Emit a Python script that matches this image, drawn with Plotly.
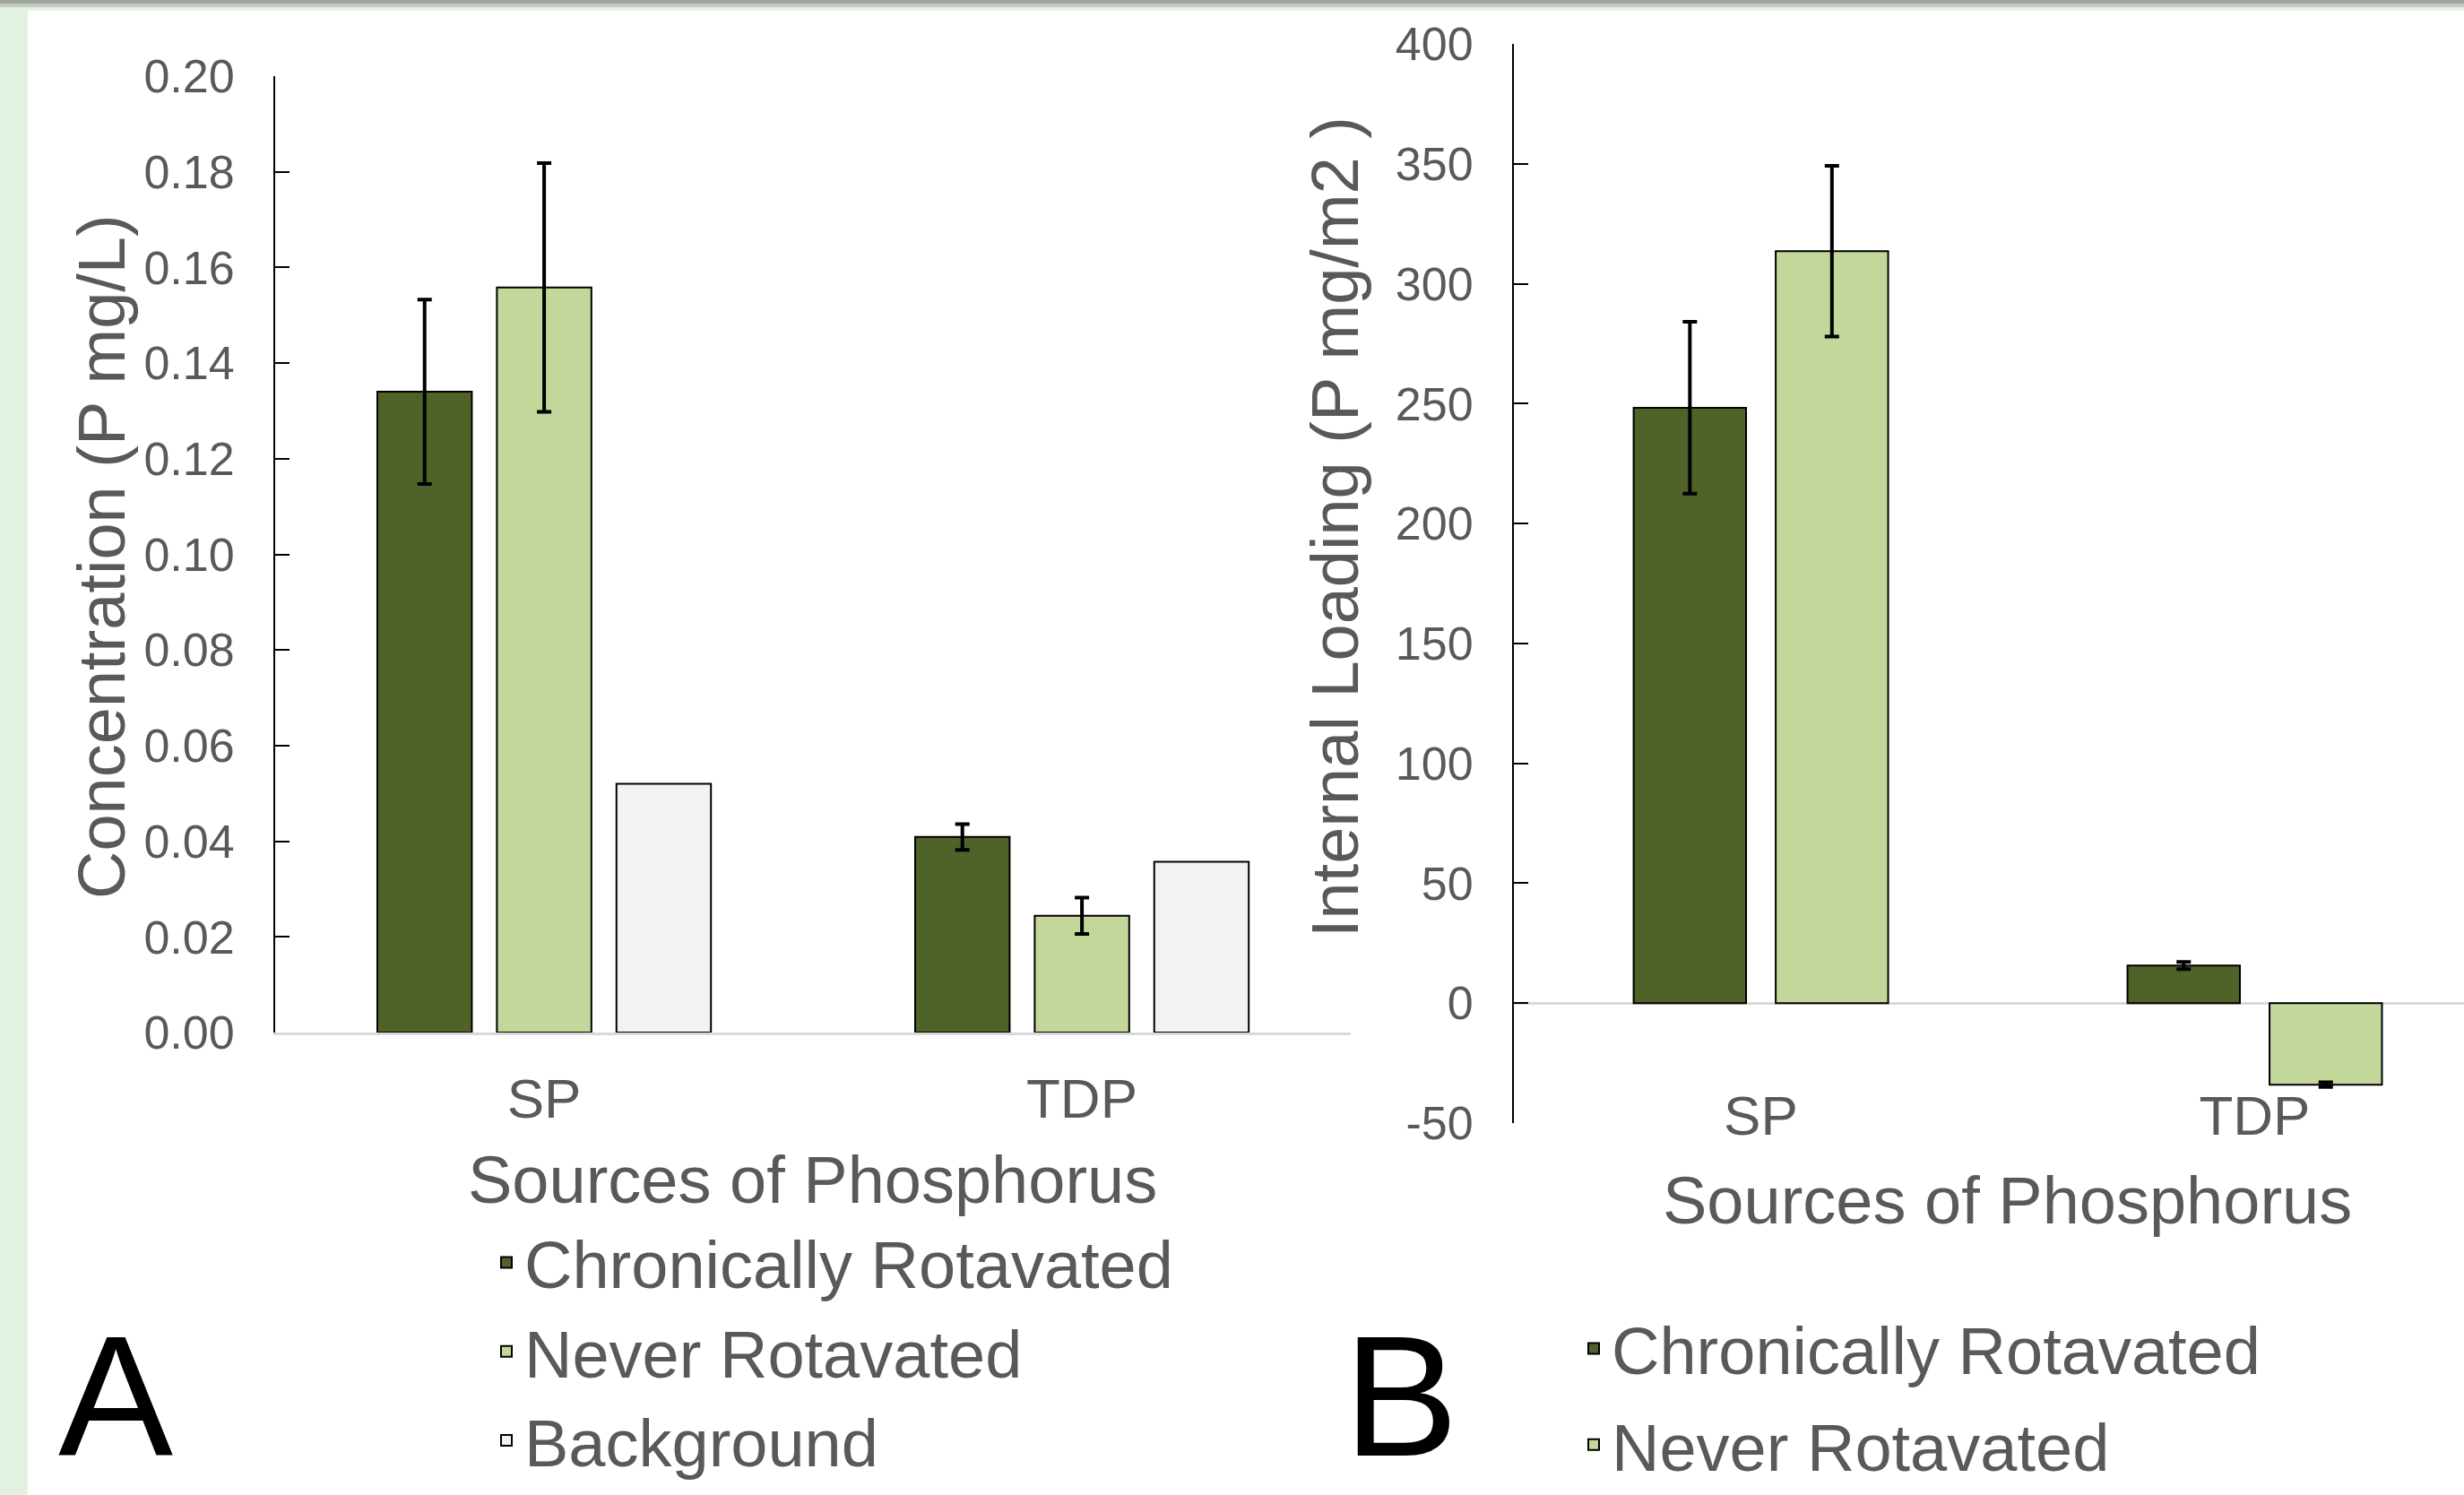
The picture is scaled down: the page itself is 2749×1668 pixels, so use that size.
import plotly.graph_objects as go

W, H = 2749, 1668

# ---------------- data ----------------
categories = ["SP", "TDP"]
series_names = ["Chronically Rotavated", "Never Rotavated", "Background"]

conc_cr = [0.134, 0.0409]
conc_cr_err = [0.0193, 0.0027]
conc_nr = [0.1558, 0.0244]
conc_nr_err = [0.026, 0.0038]
conc_bg = [0.052, 0.0357]

load_cr = [248.3, 15.7]
load_cr_err = [35.8, 1.5]
load_nr = [313.6, -34.0]
load_nr_err = [35.6, 1.0]

conc_ticks = [0.00, 0.02, 0.04, 0.06, 0.08, 0.10, 0.12, 0.14, 0.16, 0.18, 0.20]
load_ticks = [-50, 0, 50, 100, 150, 200, 250, 300, 350, 400]
load_tick_labels = ["-50", "0", "50", "100", "150", "200", "250", "300", "350", "400"]

# ---------------- styles ----------------
FONT = "Liberation Sans, Arial, sans-serif"
GREY_TXT = "#595959"
colors = ["#4f6228", "#c4d79b", "#f2f2f2"]

def px_x(p):
    return p / W

def px_y(p):
    return 1 - p / H

fig = go.Figure()

left_offsets = [-0.31, -0.0877, 0.1346]
left_width = 0.1757
left_vals = [conc_cr, conc_nr, conc_bg]
left_errs = [conc_cr_err, conc_nr_err, None]
for i, (name, vals, err, col, off) in enumerate(zip(series_names, left_vals, left_errs, colors, left_offsets)):
    fig.add_trace(go.Bar(
        x=categories, y=vals, name=name,
        marker=dict(color=col, line=dict(color="#000000", width=2)),
        width=left_width, offset=off,
        error_y=(dict(type="data", array=err, visible=True, color="#000000",
                      thickness=4, width=8) if err else None),
        xaxis="x", yaxis="y", legend="legend",
    ))

right_offsets = [-0.2575, 0.0302]
right_width = 0.2277
right_vals = [load_cr, load_nr]
right_errs = [load_cr_err, load_nr_err]
for i, (name, vals, err, col, off) in enumerate(zip(series_names[:2], right_vals, right_errs, colors[:2], right_offsets)):
    fig.add_trace(go.Bar(
        x=categories, y=vals, name=name,
        marker=dict(color=col, line=dict(color="#000000", width=2)),
        width=right_width, offset=off,
        error_y=dict(type="data", array=err, visible=True, color="#000000",
                     thickness=4, width=8),
        xaxis="x2", yaxis="y2", legend="legend2", legendgroup=f"right{i}",
    ))

axis_font = dict(family=FONT, color=GREY_TXT)

fig.update_layout(
    width=W, height=H,
    margin=dict(l=0, r=0, t=0, b=0, pad=0, autoexpand=False),
    paper_bgcolor="#ffffff", plot_bgcolor="rgba(0,0,0,0)",
    font=dict(family=FONT, color=GREY_TXT),
    barmode="group",
    xaxis=dict(domain=[px_x(307), px_x(1507)], range=[-0.5, 1.5], anchor="y",
               showline=True, linecolor="#d9d9d9", linewidth=3, ticks="",
               showgrid=False, zeroline=False,
               tickfont=dict(size=62, **axis_font), ticklabelstandoff=18),
    yaxis=dict(domain=[px_y(1152), px_y(85)], range=[0, 0.2], anchor="x",
               tickvals=conc_ticks, tickformat=".2f",
               ticks="inside", ticklen=16, tickwidth=2, tickcolor="#000000",
               showline=True, linecolor="#000000", linewidth=2,
               showgrid=False, zeroline=False,
               tickfont=dict(size=52, **axis_font), ticklabelstandoff=33),
    xaxis2=dict(domain=[px_x(1689), 1.0], range=[-0.5, 1.424], anchor="y2",
                showline=False, ticks="", showgrid=False, zeroline=False,
                tickfont=dict(size=62, **axis_font), ticklabelstandoff=-50),
    yaxis2=dict(domain=[px_y(1253), px_y(49)], range=[-50, 400], anchor="x2",
                tickvals=load_ticks, ticktext=load_tick_labels,
                ticks="inside", ticklen=16, tickwidth=2, tickcolor="#000000",
                showline=True, linecolor="#000000", linewidth=2,
                showgrid=False, zeroline=True, zerolinecolor="#d9d9d9", zerolinewidth=3,
                tickfont=dict(size=52, **axis_font), ticklabelstandoff=33),
    legend=dict(x=px_x(545), y=px_y(1354), xanchor="left", yanchor="top",
                font=dict(size=74, family=FONT, color=GREY_TXT),
                bgcolor="rgba(0,0,0,0)", borderwidth=0),
    legend2=dict(x=px_x(1758), y=px_y(1450), xanchor="left", yanchor="top",
                 font=dict(size=74, family=FONT, color=GREY_TXT),
                 bgcolor="rgba(0,0,0,0)", borderwidth=0,
                 traceorder="grouped", tracegroupgap=8),
    showlegend=True,
)

# axis titles
ann = [
    dict(text="Sources of Phosphorus", x=px_x(907), y=px_y(1316), size=74, angle=0, color=GREY_TXT),
    dict(text="Sources of Phosphorus", x=px_x(2239), y=px_y(1339), size=74, angle=0, color=GREY_TXT),
    dict(text="Concentration (P mg/L)", x=px_x(113), y=px_y(621), size=74, angle=-90, color=GREY_TXT),
    dict(text="Internal Loading (P mg/m2 )", x=px_x(1489), y=px_y(588), size=74, angle=-90, color=GREY_TXT),
]
for a in ann:
    fig.add_annotation(text=a["text"], x=a["x"], y=a["y"], xref="paper", yref="paper",
                       xanchor="center", yanchor="middle", showarrow=False,
                       textangle=a["angle"],
                       font=dict(size=a["size"], family=FONT, color=a["color"]))

# panel letters, bottom-anchored so their text boxes stay inside the page
for letter, cx in [("A", 129), ("B", 1563)]:
    fig.add_annotation(text=letter, x=px_x(cx), y=px_y(1667), xref="paper", yref="paper",
                       xanchor="center", yanchor="bottom", showarrow=False,
                       font=dict(size=192, family=FONT, color="#000000"))

# page frame (pale green border with a grey shadow at the top)
frame = [
    dict(x0=0, x1=px_x(31), y0=0, y1=1, color="#e3f1e3"),
    dict(x0=0, x1=1, y0=px_y(12), y1=1, color="#e3f1e3"),
    dict(x0=0, x1=1, y0=px_y(8), y1=1, color="#c2cac2"),
    dict(x0=0, x1=1, y0=px_y(4), y1=1, color="#9ea69e"),
]
for f in frame:
    fig.add_shape(type="rect", xref="paper", yref="paper",
                  x0=f["x0"], x1=f["x1"], y0=f["y0"], y1=f["y1"],
                  fillcolor=f["color"], line=dict(width=0), layer="above")

fig.write_html("out.html", config={"displayModeBar": False},
               post_script="document.body.style.margin='0px';")
